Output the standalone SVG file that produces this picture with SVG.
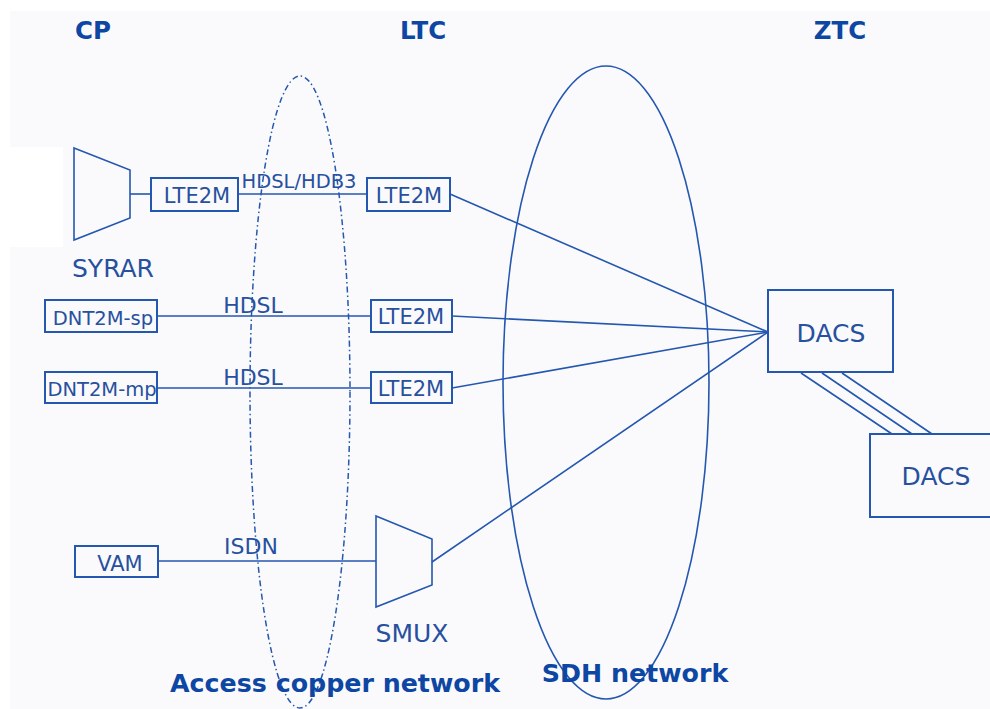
<svg xmlns="http://www.w3.org/2000/svg" width="990" height="709" viewBox="0 0 990 709">
<style>
.ln{stroke:#2457b0;stroke-width:1.6;fill:none}
.bx{stroke:#2457b0;stroke-width:2;fill:none}
.t{font-family:"DejaVu Sans",Verdana,sans-serif;fill:#27509e;text-anchor:middle}
.h{font-family:"DejaVu Sans",Verdana,sans-serif;font-weight:bold;fill:#0d46a3;text-anchor:middle;font-size:24.5px}
</style>
<rect x="0" y="0" width="990" height="709" fill="#ffffff"/>
<rect x="10" y="11" width="980" height="698" fill="#fafafc"/>
<rect x="10" y="147" width="53" height="100" fill="#ffffff"/>

<g id="headers">
<text class="h" x="93" y="39">CP</text>
<text class="h" x="423" y="39">LTC</text>
<text class="h" x="840" y="39">ZTC</text>
</g>

<g id="access-copper-network">
<ellipse cx="300" cy="392" rx="50" ry="316" fill="none" stroke="#2457b0" stroke-width="1.5" stroke-dasharray="6 3 1.5 3"/>
<text class="h" x="335" y="692" style="font-size:25.3px">Access copper network</text>
</g>
<g id="sdh-network">
<ellipse cx="606" cy="382.5" rx="103" ry="316.5" class="ln"/>
<text class="h" x="635" y="682" style="font-size:25.3px">SDH network</text>
</g>

<g id="connectors">
<line class="ln" x1="130" y1="194" x2="151" y2="194"/>
<line class="ln" x1="238" y1="194" x2="367" y2="194"/>
<line class="ln" x1="157" y1="316" x2="371" y2="316"/>
<line class="ln" x1="157" y1="388" x2="371" y2="388"/>
<line class="ln" x1="158" y1="561" x2="376" y2="561"/>
<line class="ln" x1="450" y1="194" x2="768" y2="332"/>
<line class="ln" x1="452" y1="316" x2="768" y2="332"/>
<line class="ln" x1="452" y1="388" x2="768" y2="332"/>
<line class="ln" x1="432" y1="562" x2="768" y2="332"/>
<line class="ln" x1="801" y1="373" x2="892" y2="434"/>
<line class="ln" x1="822" y1="373" x2="912" y2="434"/>
<line class="ln" x1="842" y1="373" x2="932" y2="434"/>
<text class="t" x="299" y="188" font-size="19.5">HDSL/HDB3</text>
<text class="t" x="253" y="313" font-size="22">HDSL</text>
<text class="t" x="253" y="385" font-size="22">HDSL</text>
<text class="t" x="251" y="554" font-size="22">ISDN</text>
</g>

<g id="syrar">
<polygon class="ln" points="74,148 130,170 130,218 74,240"/>
<text class="t" x="113" y="277" font-size="25">SYRAR</text>
</g>
<g id="lte2m-cp">
<rect class="bx" x="151" y="178" width="87" height="33"/>
<text class="t" x="197" y="203" font-size="21">LTE2M</text>
</g>
<g id="lte2m-1">
<rect class="bx" x="367" y="178" width="83" height="33"/>
<text class="t" x="409" y="203" font-size="21">LTE2M</text>
</g>
<g id="dnt2m-sp">
<rect class="bx" x="45" y="300" width="112" height="32"/>
<text class="t" x="103" y="325" font-size="19.5">DNT2M-sp</text>
</g>
<g id="lte2m-2">
<rect class="bx" x="371" y="300" width="81" height="32"/>
<text class="t" x="411" y="324" font-size="21">LTE2M</text>
</g>
<g id="dnt2m-mp">
<rect class="bx" x="45" y="372" width="112" height="31"/>
<text class="t" x="102" y="396" font-size="19.5">DNT2M-mp</text>
</g>
<g id="lte2m-3">
<rect class="bx" x="371" y="372" width="81" height="31"/>
<text class="t" x="411" y="396" font-size="21">LTE2M</text>
</g>
<g id="vam">
<rect class="bx" x="75" y="546" width="83" height="31"/>
<text class="t" x="120" y="571" font-size="21">VAM</text>
</g>
<g id="smux">
<polygon class="ln" points="376,516 432,539 432,585 376,607"/>
<text class="t" x="412" y="642" font-size="25">SMUX</text>
</g>
<g id="dacs-1">
<rect class="bx" x="768" y="290" width="125" height="82"/>
<text class="t" x="831" y="342" font-size="25">DACS</text>
</g>
<g id="dacs-2">
<rect class="bx" x="870" y="434" width="130" height="83"/>
<text class="t" x="936" y="485" font-size="25">DACS</text>
</g>
</svg>
